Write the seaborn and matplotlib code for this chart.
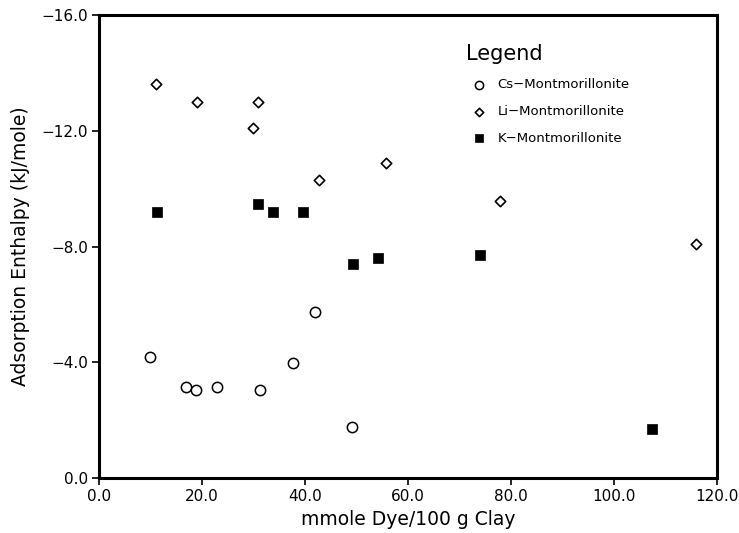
import numpy as np
import pandas as pd
import matplotlib
matplotlib.use("Agg")
import matplotlib.pyplot as plt
import seaborn as sns

# ----------------------------
# Datos
cs_x = [9.9, 16.9, 18.8, 22.9, 31.3, 37.7, 41.9, 49.1]
cs_y = [-4.18, -3.14, -3.04, -3.14, -3.04, -3.97, -5.74, -1.76]

li_x = [11.1, 19.1, 30.0, 30.8, 42.8, 55.7, 77.8, 115.9]
li_y = [-13.6, -13.0, -12.08, -13.0, -10.3, -10.88, -9.57, -8.07]

k_x = [11.3, 30.8, 33.8, 39.6, 49.4, 54.1, 74.0, 107.5]
k_y = [-9.19, -9.48, -9.19, -9.19, -7.39, -7.61, -7.69, -1.70]

series_names = ["Cs\u2212Montmorillonite", "Li\u2212Montmorillonite", "K\u2212Montmorillonite"]

x_ticks = [0, 20, 40, 60, 80, 100, 120]
y_ticks = [0, -4, -8, -12, -16]

sns.set_style("white")
plt.rcParams['font.family'] = ['DejaVu Sans']
plt.rcParams['text.color'] = 'black'
plt.rcParams['axes.labelcolor'] = 'black'
plt.rcParams['xtick.color'] = 'black'
plt.rcParams['ytick.color'] = 'black'

fig = plt.figure(figsize=(7.39, 5.33), dpi=100)
ax = fig.add_axes([0.134, 0.103, 0.836, 0.869])

# Cs: círculos vacíos
sns.scatterplot(x=cs_x, y=cs_y, ax=ax, marker="o", s=55, facecolor="white",
                edgecolor="black", linewidth=1.1, label=series_names[0], zorder=3)
# Li: rombos vacíos
sns.scatterplot(x=li_x, y=li_y, ax=ax, marker="D", s=28, facecolor="white",
                edgecolor="black", linewidth=1.2, label=series_names[1], zorder=3)
# K: cuadrados llenos
sns.scatterplot(x=k_x, y=k_y, ax=ax, marker="s", s=55, color="black",
                edgecolor="black", linewidth=0.5, label=series_names[2], zorder=3)

ax.set_xlim(0, 120)
ax.set_ylim(0, -16)
ax.set_xticks(x_ticks)
ax.set_xticklabels([f"{v:.1f}" for v in x_ticks])
ax.set_yticks(y_ticks)
ax.set_yticklabels([f"{v:.1f}".replace("-", "\u2212") if v != 0 else "0.0" for v in y_ticks])

ax.tick_params(axis="both", which="major", direction="out", length=5, width=1.2,
               labelsize=11, bottom=True, left=True, top=False, right=False, pad=3,
               colors="black")
for sp in ax.spines.values():
    sp.set_visible(True)
    sp.set_color("black")
    sp.set_linewidth(2.2)

ax.set_xlabel("mmole Dye/100 g Clay", fontsize=13.5)
ax.set_ylabel("Adsorption Enthalpy (kJ/mole)", fontsize=13.5, labelpad=8)

leg = ax.legend(title="Legend", loc="upper left", bbox_to_anchor=(0.585, 0.948),
                frameon=False, fontsize=9.5, title_fontsize=15, handletextpad=0.4,
                labelspacing=1.05, borderaxespad=0, markerscale=0.8)
leg._legend_box.align = "left"
for t in leg.get_texts():
    t.set_color("black")
leg.get_title().set_color("black")

fig.savefig("out.png", dpi=100)
